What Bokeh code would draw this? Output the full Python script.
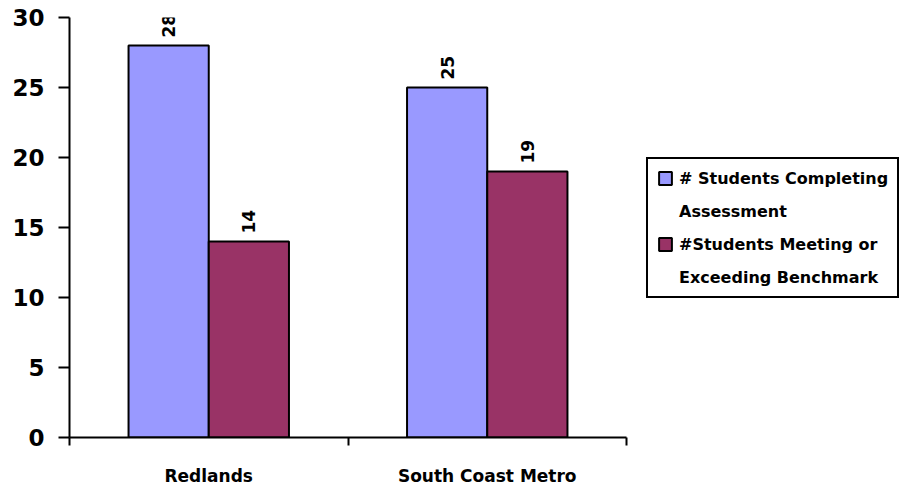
import math
from bokeh.plotting import figure
from bokeh.models import (Range1d, ColumnDataSource, FixedTicker,
                          LinearAxis, Legend, LegendItem)
from bokeh.transform import dodge
from bokeh.core.properties import value
from bokeh.embed import file_html
from bokeh.resources import INLINE

# ---- data ----
categories = ["Redlands", "South Coast Metro"]
completing = [28, 25]
meeting = [14, 19]
legend_completing = ["# Students Completing", "Assessment"]
legend_meeting = ["#Students Meeting or", "Exceeding Benchmark"]
y_ticks = [0, 5, 10, 15, 20, 25, 30]

FONT = "DejaVu Sans"
BLUE = "#9999FF"
MAROON = "#993366"

# layout (pixels)
WIDTH, HEIGHT = 899, 490
PLOT_LEFT, PLOT_RIGHT = 69, 626          # extent of the category axis
n = len(categories)
# the frame spans the full width so the legend (right) is not clipped;
# the visible x axis is limited to the category slots with axis bounds
x_end = n * (WIDTH - PLOT_LEFT) / (PLOT_RIGHT - PLOT_LEFT)

centers = [i + 0.5 for i in range(n)]
bounds = list(range(n + 1))

src = ColumnDataSource(dict(
    cat=categories,
    pos=centers,
    completing=completing,
    meeting=meeting,
    lab_c=[str(v) for v in completing],
    lab_m=[str(v) for v in meeting],
))

p = figure(width=WIDTH, height=HEIGHT,
           x_range=Range1d(0, x_end), y_range=Range1d(0, 30),
           output_backend="svg", toolbar_location=None,
           min_border_left=PLOT_LEFT, min_border_right=0,
           min_border_top=17, min_border_bottom=53)
p.outline_line_color = None
p.xgrid.visible = False
p.ygrid.visible = False
p.background_fill_color = "white"
p.border_fill_color = "white"

# y axis
ya = p.yaxis[0]
ya.ticker = FixedTicker(ticks=y_ticks)
ya.major_tick_out = 11
ya.major_tick_in = 0
ya.minor_tick_line_color = None
ya.axis_line_width = 2
ya.axis_line_color = "black"
ya.major_tick_line_width = 2
ya.major_tick_line_color = "black"
ya.major_label_text_font = FONT
ya.major_label_text_font_style = "bold"
ya.major_label_text_font_size = "23px"
ya.major_label_text_color = "black"
ya.major_label_standoff = 14

# x axis: boundary ticks (no labels)
xa = p.xaxis[0]
xa.ticker = FixedTicker(ticks=bounds)
xa.bounds = (0, n)
xa.major_tick_out = 8
xa.major_tick_in = 0
xa.minor_tick_line_color = None
xa.axis_line_width = 2
xa.axis_line_color = "black"
xa.major_tick_line_width = 2
xa.major_tick_line_color = "black"
xa.major_label_text_font_size = "0px"
xa.major_label_standoff = 0
xa.major_label_overrides = {b: "" for b in bounds}

# category labels
cat_axis = LinearAxis(ticker=FixedTicker(ticks=centers),
                      major_label_overrides={c: t for c, t in zip(centers, categories)},
                      axis_line_color=None, major_tick_line_color=None,
                      minor_tick_line_color=None,
                      major_label_text_font=FONT,
                      major_label_text_font_style="bold",
                      major_label_text_font_size="17px",
                      major_label_text_color="black",
                      major_label_standoff=14)
p.add_layout(cat_axis, "below")

W = 0.288
OFF = 0.144
r1 = p.vbar(x=dodge("pos", -OFF), top="completing", width=W,
            source=src, fill_color=BLUE, line_color="black", line_width=2)
r2 = p.vbar(x=dodge("pos", OFF), top="meeting", width=W,
            source=src, fill_color=MAROON, line_color="black", line_width=2)
ghost = p.vbar(x=[], top=[], width=W, fill_alpha=0, line_alpha=0)

for col, lab, off in (("completing", "lab_c", -OFF), ("meeting", "lab_m", OFF)):
    p.text(x=dodge("pos", off), y=col, text=lab, source=src,
           angle=math.pi / 2, text_align="left", text_baseline="middle",
           y_offset=-8, text_font=value(FONT), text_font_style="bold",
           text_font_size="17px", text_color="black")

legend = Legend(items=[
    LegendItem(label=legend_completing[0], renderers=[r1]),
    LegendItem(label=legend_completing[1], renderers=[ghost]),
    LegendItem(label=legend_meeting[0], renderers=[r2]),
    LegendItem(label=legend_meeting[1], renderers=[ghost]),
], location=(577, 139))
legend.border_line_color = "black"
legend.border_line_width = 2
legend.border_line_alpha = 1
legend.background_fill_color = "white"
legend.background_fill_alpha = 1
legend.padding = 9
legend.spacing = 13
legend.margin = 0
legend.glyph_height = 16
legend.glyph_width = 16
legend.label_standoff = 6
legend.label_height = 20
legend.label_text_font = FONT
legend.label_text_font_style = "bold"
legend.label_text_font_size = "16px"
legend.label_text_color = "black"
p.add_layout(legend)

open("out.html", "w").write(file_html(p, INLINE))
